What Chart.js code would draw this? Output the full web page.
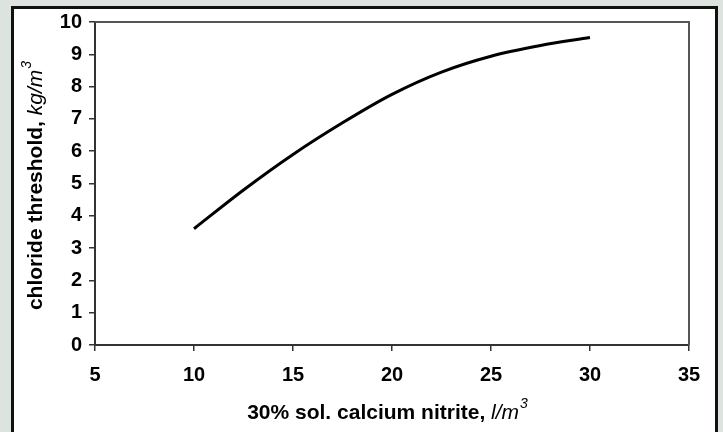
<!DOCTYPE html>
<html lang="en">
  <head>
    <meta charset="UTF-8" />
    <title>Chloride threshold vs calcium nitrite</title>
    <script src="https://cdn.jsdelivr.net/npm/chart.js"></script>
    <style>
      html, body { margin: 0; padding: 0; }
      body { width: 723px; height: 432px; background: #dde3df; position: relative; overflow: hidden; }
      .panel {
        position: absolute; left: 11px; top: 6px; width: 701px; height: 430px;
        background: #fff; border: 3px solid #111; border-bottom: 1px solid #888;
      }
      #chart { position: absolute; left: 0; top: 0; }
    </style>
  </head>
  <body>
    <div class="panel"></div>
    <canvas id="chart" width="723" height="432"></canvas>

    <script>
      // values
      const nitriteDose = [10, 12.5, 15, 17.5, 20, 22.5, 25, 27.5, 30];
      const chlorideThreshold = [3.6, 4.8, 5.9, 6.88, 7.76, 8.45, 8.94, 9.27, 9.52];

      const xTitle = ["30% sol. calcium nitrite, ", "l/m", "3"];
      const yTitle = ["chloride threshold, ", "kg/m", "3"];

      const FONT = "'Liberation Sans', Arial, sans-serif";

      // draws a "bold text, italic unit + superscript" label centred on 0,0
      function drawTitle(ctx, parts) {
        const boldFont = "bold 21px " + FONT;
        const italFont = "italic 21px " + FONT;
        const supFont = "italic 14px " + FONT;
        ctx.font = boldFont;
        const w1 = ctx.measureText(parts[0]).width;
        ctx.font = italFont;
        const w2 = ctx.measureText(parts[1]).width;
        ctx.font = supFont;
        const w3 = ctx.measureText(parts[2]).width;
        let x = -(w1 + w2 + w3) / 2;
        ctx.fillStyle = "#000";
        ctx.textBaseline = "alphabetic";
        ctx.textAlign = "left";
        ctx.font = boldFont;
        ctx.fillText(parts[0], x, 7);
        x += w1;
        ctx.font = italFont;
        ctx.fillText(parts[1], x, 7);
        x += w2;
        ctx.font = supFont;
        ctx.fillText(parts[2], x + 1, -4);
      }

      const framePlugin = {
        id: "frame",
        afterDraw(chart) {
          const ctx = chart.ctx;
          const a = chart.chartArea;
          ctx.save();
          // top and right edges of the plot box
          ctx.strokeStyle = "#555";
          ctx.lineWidth = 2;
          ctx.beginPath();
          ctx.moveTo(a.left, a.top);
          ctx.lineTo(a.right, a.top);
          ctx.lineTo(a.right, a.bottom);
          ctx.stroke();
          ctx.restore();

          ctx.save();
          ctx.translate((a.left + a.right) / 2 - 5, 412);
          drawTitle(ctx, xTitle);
          ctx.restore();

          ctx.save();
          ctx.translate(35, 186);
          ctx.rotate(-Math.PI / 2);
          drawTitle(ctx, yTitle);
          ctx.restore();
        },
      };

      const tickFont = { family: FONT, size: 20, weight: "bold" };

      new Chart(document.getElementById("chart"), {
        type: "line",
        data: {
          datasets: [
            {
              data: nitriteDose.map((x, i) => ({ x: x, y: chlorideThreshold[i] })),
              borderColor: "#000",
              borderWidth: 3,
              pointRadius: 0,
              cubicInterpolationMode: "monotone",
              fill: false,
            },
          ],
        },
        options: {
          responsive: false,
          animation: false,
          devicePixelRatio: 1,
          layout: { padding: { top: 22, right: 34, left: 0, bottom: 0 } },
          plugins: { legend: { display: false }, tooltip: { enabled: false } },
          scales: {
            x: {
              type: "linear",
              min: 5,
              max: 35,
              ticks: { stepSize: 5, color: "#000", font: tickFont, padding: 12 },
              grid: { drawOnChartArea: false, tickLength: 6, color: "#333", lineWidth: 1.5 },
              border: { color: "#333", width: 2 },
              afterFit: (s) => { s.height = 87; },
            },
            y: {
              min: 0,
              max: 10,
              ticks: { stepSize: 1, color: "#000", font: tickFont, padding: 7 },
              grid: { drawOnChartArea: false, tickLength: 6, color: "#333", lineWidth: 1.5 },
              border: { color: "#333", width: 2 },
              afterFit: (s) => { s.width = 95; },
            },
          },
        },
        plugins: [framePlugin],
      });
    </script>
  </body>
</html>
